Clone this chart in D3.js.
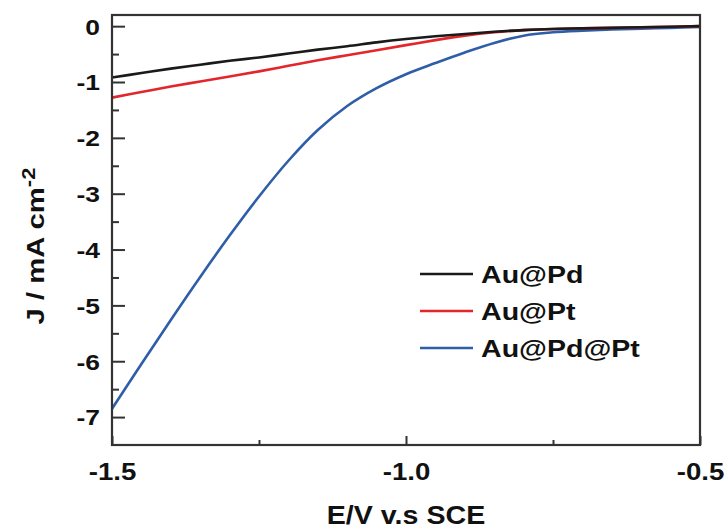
<!DOCTYPE html>
<html>
<head>
<meta charset="utf-8">
<script src="https://cdn.jsdelivr.net/npm/d3@7/dist/d3.min.js"></script>
<style>
  html, body { margin: 0; padding: 0; background: #fff; }
  svg { display: block; }
  text { font-family: "Liberation Sans", Arial, Helvetica, sans-serif; font-weight: bold; fill: #111; }
</style>
</head>
<body>
<svg id="chart" width="726" height="531"></svg>
<script>
// Potential (V vs SCE)
const potential = [-1.5, -1.45, -1.4, -1.35, -1.3, -1.25, -1.2, -1.15, -1.1, -1.05, -1.0,
                   -0.95, -0.9, -0.85, -0.8, -0.75, -0.7, -0.65, -0.6, -0.55, -0.5];
// Current density (mA cm^-2) for each catalyst
const auPd   = [-0.92, -0.84, -0.76, -0.69, -0.62, -0.56, -0.49, -0.42, -0.36, -0.29, -0.23,
                -0.18, -0.14, -0.10, -0.07, -0.05, -0.04, -0.03, -0.02, -0.01, 0.0];
const auPt   = [-1.28, -1.18, -1.08, -0.99, -0.90, -0.81, -0.71, -0.61, -0.52, -0.43, -0.34,
                -0.25, -0.17, -0.11, -0.07, -0.05, -0.04, -0.03, -0.02, -0.01, 0.0];
const auPdPt = [-6.85, -6.05, -5.26, -4.49, -3.75, -3.05, -2.41, -1.86, -1.43, -1.11, -0.86,
                -0.66, -0.47, -0.30, -0.17, -0.11, -0.08, -0.06, -0.045, -0.03, -0.015];

const seriesNames  = ["Au@Pd", "Au@Pt", "Au@Pd@Pt"];
const seriesColors = ["#1a1a1a", "#e3262b", "#2f5ea8"];
const seriesValues = [auPd, auPt, auPdPt];

const xMajorTicks = [-1.5, -1.0, -0.5];
const xMinorTicks = [-1.25, -0.75];
const yMajorTicks = [0, -1, -2, -3, -4, -5, -6, -7];
const yMinorTicks = [-0.5, -1.5, -2.5, -3.5, -4.5, -5.5, -6.5];

const xTitle = "E/V v.s SCE";

// Glyphs in this figure are drawn a little wider than the font's natural width
function widen(sel, factor) {
  sel.each(function () {
    const w = this.getComputedTextLength();
    d3.select(this).attr("textLength", w * factor).attr("lengthAdjust", "spacingAndGlyphs");
  });
}

const svg = d3.select("#chart");
const plot = { left: 112, right: 700, top: 15, bottom: 445 };

const x = d3.scaleLinear().domain([-1.5, -0.5]).range([plot.left, plot.right]);
const y = d3.scaleLinear().domain([0.2, -7.5]).range([plot.top, plot.bottom]);

// Curves
const line = d3.line()
  .x(d => x(d[0]))
  .y(d => y(d[1]))
  .curve(d3.curveCatmullRom.alpha(0.5));

const curves = svg.append("g").attr("class", "curves");
// blue first so the flatter curves sit on top near 0
[2, 1, 0].forEach(i => {
  curves.append("path")
    .datum(potential.map((e, k) => [e, seriesValues[i][k]]))
    .attr("d", line)
    .attr("fill", "none")
    .attr("stroke", seriesColors[i])
    .attr("stroke-width", 2.6)
    .attr("stroke-linejoin", "round");
});

// Frame
svg.append("rect")
  .attr("x", plot.left).attr("y", plot.top)
  .attr("width", plot.right - plot.left).attr("height", plot.bottom - plot.top)
  .attr("fill", "none").attr("stroke", "#333").attr("stroke-width", 2.2);

// Hyphen-minus labels, as printed on the axes
const fmtInt = d => String(d);
const fmtOne = d => d.toFixed(1);

// Y axis (ticks point inward)
const yAxis = d3.axisLeft(y).tickValues(yMajorTicks).tickSize(-13).tickFormat(fmtInt);
const gy = svg.append("g").attr("transform", `translate(${plot.left},0)`).call(yAxis);
gy.select(".domain").remove();
gy.selectAll(".tick line").attr("stroke", "#333").attr("stroke-width", 2);
gy.selectAll(".tick text").attr("x", -12).attr("font-size", 22).attr("fill", "#111")
  .attr("dy", "0.36em").call(widen, 1.2);

const yMinor = d3.axisLeft(y).tickValues(yMinorTicks).tickSize(-7).tickFormat("");
const gym = svg.append("g").attr("transform", `translate(${plot.left},0)`).call(yMinor);
gym.select(".domain").remove();
gym.selectAll(".tick line").attr("stroke", "#333").attr("stroke-width", 2);

// X axis (ticks point inward)
const xAxis = d3.axisBottom(x).tickValues(xMajorTicks).tickSize(-9).tickFormat(fmtOne);
const gx = svg.append("g").attr("transform", `translate(0,${plot.bottom})`).call(xAxis);
gx.select(".domain").remove();
gx.selectAll(".tick line").attr("stroke", "#333").attr("stroke-width", 2);
gx.selectAll(".tick text").attr("y", 35).attr("dy", 0).attr("font-size", 24).attr("fill", "#111")
  .call(widen, 1.15);

const xMinor = d3.axisBottom(x).tickValues(xMinorTicks).tickSize(-5).tickFormat("");
const gxm = svg.append("g").attr("transform", `translate(0,${plot.bottom})`).call(xMinor);
gxm.select(".domain").remove();
gxm.selectAll(".tick line").attr("stroke", "#333").attr("stroke-width", 2);

// Axis titles
svg.append("text")
  .attr("x", (plot.left + plot.right) / 2).attr("y", 524)
  .attr("text-anchor", "middle").attr("font-size", 26)
  .text(xTitle).call(widen, 1.1);

const yt = svg.append("text")
  .attr("transform", "translate(44,246) rotate(-90)")
  .attr("text-anchor", "middle").attr("font-size", 24);
yt.append("tspan").text("J / mA cm");
yt.append("tspan").attr("dy", -9).attr("font-size", 18).text("-2");
yt.call(widen, 1.22);

// Legend
const legend = svg.append("g").attr("class", "legend");
seriesNames.forEach((name, i) => {
  const row = legend.append("g").attr("transform", `translate(420,${274 + i * 37})`);
  row.append("line").attr("x1", 0).attr("x2", 53).attr("y1", 0).attr("y2", 0)
    .attr("stroke", seriesColors[i]).attr("stroke-width", 2.6);
  row.append("text").attr("x", 61).attr("y", 9).attr("font-size", 24).text(name).call(widen, 1.19);
});
</script>
</body>
</html>
